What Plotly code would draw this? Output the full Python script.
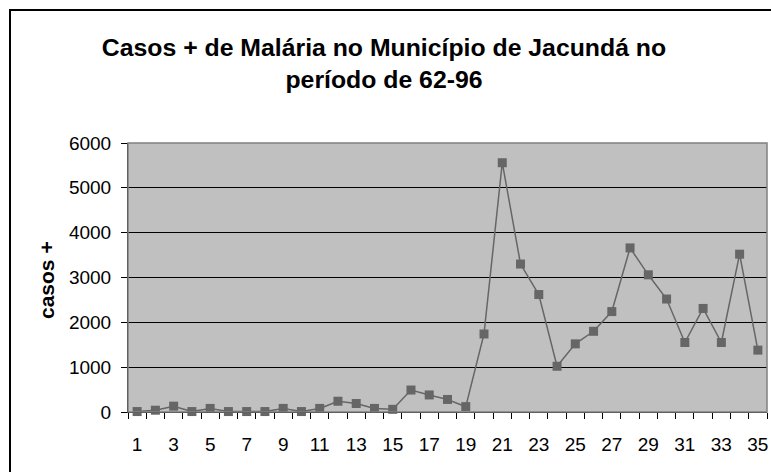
import plotly.graph_objects as go

periodo = list(range(1, 36))
casos = [10, 40, 130, 10, 80, 10, 10, 10, 80, 10,
         80, 240, 190, 80, 60, 490, 380, 280, 120, 1740,
         5560, 3300, 2620, 1020, 1520, 1800, 2240, 3660, 3060, 2520,
         1550, 2310, 1550, 3520, 1380]
x_ticks = list(range(1, 36, 2))
x_tick_labels = [str(v) for v in x_ticks]
y_ticks = [0, 1000, 2000, 3000, 4000, 5000, 6000]

title_lines = ["Casos + de Malária no Município de Jacundá no", "período de 62-96"]
y_title = "casos +"

W, H = 771, 472
ml, mr, mt, mb = 128, 4, 143, 60
pw = W - ml - mr
ph = H - mt - mb

fig = go.Figure()
fig.add_trace(go.Scatter(
    x=periodo, y=casos, mode="lines+markers",
    line=dict(color="#666666", width=1.5),
    marker=dict(symbol="square", size=9, color="#666666"),
    cliponaxis=False, showlegend=False,
))

def px_x(p):
    return (p - ml) / pw

def px_y(p):
    return (H - mb - p) / ph

FONT = "Liberation Sans, Arial"

fig.update_layout(
    width=W, height=H,
    margin=dict(l=ml, r=mr, t=mt, b=mb),
    paper_bgcolor="white",
    plot_bgcolor="#C0C0C0",
    font=dict(family=FONT, size=19, color="black"),
    title=dict(text="<br>".join("<b>" + t + "</b>" for t in title_lines),
               x=384 / W, xanchor="center", y=1 - 56 / H, yanchor="top",
               font=dict(size=24.8, family=FONT, color="black")),
    xaxis=dict(
        range=[0.5, 35.5], tickmode="array", tickvals=x_ticks, ticktext=x_tick_labels,
        ticks="", showgrid=False, zeroline=False, showline=True, linecolor="black",
        linewidth=1, ticklabelstandoff=15,
        minor=dict(tickmode="array", tickvals=[i + 0.5 for i in range(0, 36)],
                   ticks="outside", ticklen=6, tickcolor="black", tickwidth=1, showgrid=False),
    ),
    yaxis=dict(
        range=[0, 6000], tickmode="array", tickvals=y_ticks,
        ticks="outside", ticklen=6, tickcolor="black", showgrid=True, gridcolor="black",
        gridwidth=1, zeroline=False, showline=True, linecolor="black", linewidth=1,
        ticklabelstandoff=6,
    ),
    shapes=[
        dict(type="rect", xref="paper", yref="paper", x0=0, x1=1, y0=0, y1=1,
             line=dict(color="#808080", width=1.5), fillcolor="rgba(0,0,0,0)", layer="above"),
        dict(type="rect", xref="paper", yref="paper", x0=px_x(10), x1=px_x(800),
             y0=px_y(500), y1=px_y(10), line=dict(color="black", width=2),
             fillcolor="rgba(0,0,0,0)"),
    ],
    annotations=[
        dict(text="<b>" + y_title + "</b>", xref="paper", yref="paper", x=px_x(46), y=px_y(280),
             textangle=-90, showarrow=False, xanchor="center", yanchor="middle",
             font=dict(size=21, family=FONT, color="black")),
    ],
)

fig.write_html("out.html", config={"displayModeBar": False},
               post_script="document.body.style.margin='0';document.body.style.overflow='hidden';")
